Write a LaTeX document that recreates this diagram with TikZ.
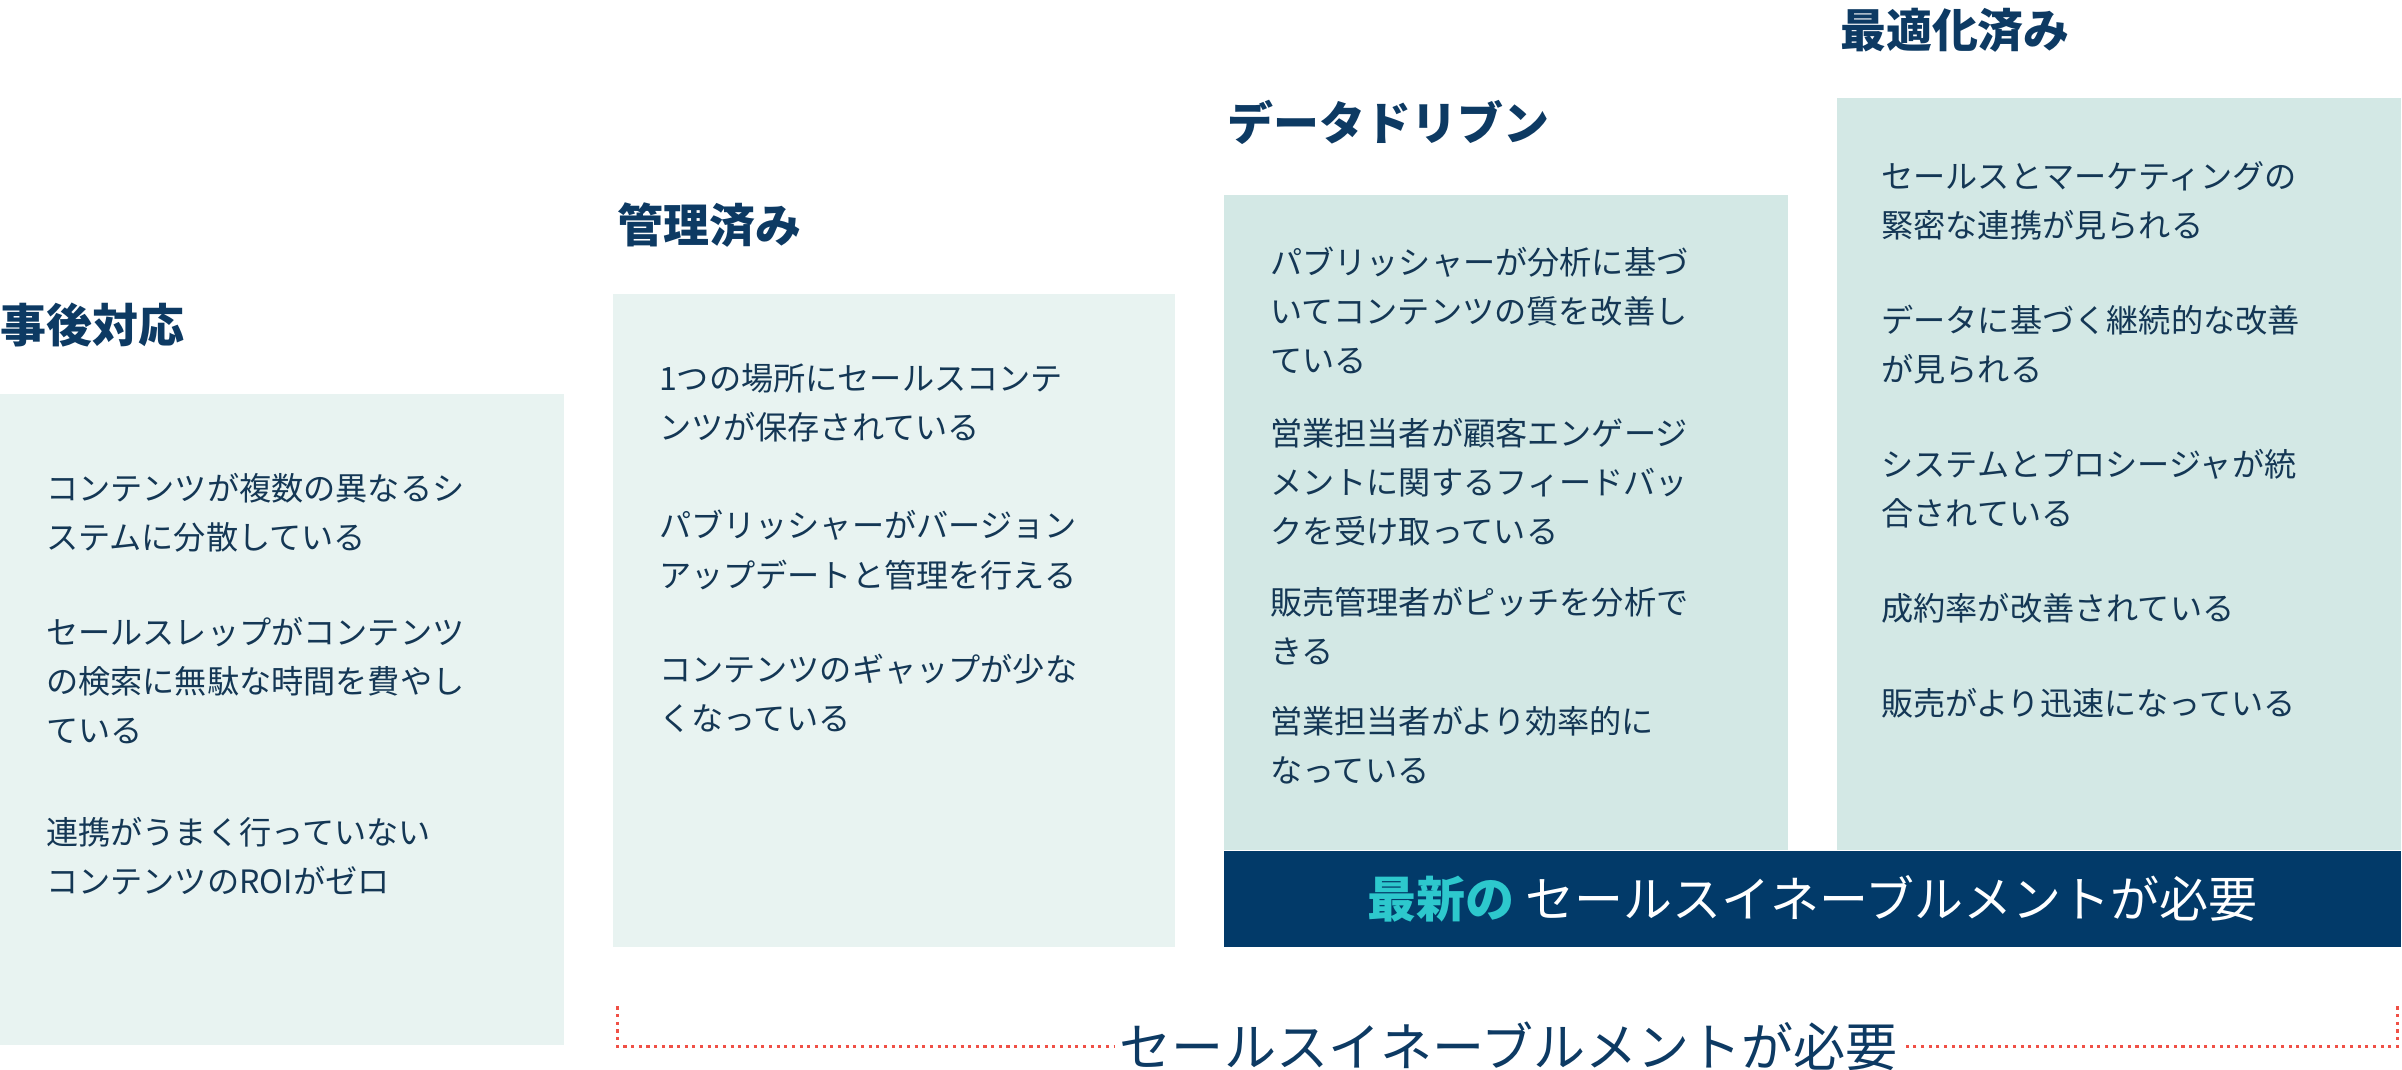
\documentclass[tikz,border=0pt]{standalone}
\usepackage{fontspec}
\setmainfont{Noto Sans CJK JP}
\newfontfamily\boldjp{Noto Sans CJK JP Bold}
\usetikzlibrary{positioning}
\definecolor{StageNavy}{RGB}{13, 58, 99}
\definecolor{StageInk}{RGB}{20, 55, 85}
\definecolor{StagePale}{RGB}{232, 243, 241}
\definecolor{StageMint}{RGB}{211, 232, 229}
\definecolor{BannerBlue}{RGB}{2, 58, 105}
\definecolor{BannerTeal}{RGB}{45, 200, 205}
\definecolor{BracketRed}{RGB}{240, 80, 70}

\begin{document}
\begin{tikzpicture}[x=1pt, y=-1pt,
    stagebox/.style={inner sep=0pt, anchor=north west},
    stagetitle/.style={anchor=west, inner sep=0pt, text=StageNavy, font=\fontsize{30}{36}\selectfont\bfseries},
    itemtext/.style={anchor=north west, inner sep=0pt, align=left, text=StageInk, font=\fontsize{21}{32}\selectfont}]

    \useasboundingbox (0,0) rectangle (1568,698);

    % --- STAGE BOXES ---
    \fill[StagePale] (0,257) rectangle (368,682);
    \fill[StagePale] (400,192) rectangle (767,618);
    \fill[StageMint] (799,127) rectangle (1167,555);
    \fill[StageMint] (1199,64) rectangle (1567,555);
    \node[fill=BannerBlue, minimum width=768pt, minimum height=63pt, inner sep=0pt, anchor=north west] (banner) at (799,555) {};
    \node[font=\fontsize{32}{36}\selectfont, text=white] at (banner.center) {\textcolor{BannerTeal}{\bfseries 最新の} セールスイネーブルメントが必要};

    % --- TITLES ---
    \node[stagetitle] (t1) at (0,212) {事後対応};
    \node[stagetitle] (t2) at (403,147) {管理済み};
    \node[stagetitle] (t3) at (801,80) {データドリブン};
    \node[stagetitle] (t4) at (1201,20) {最適化済み};

    % --- ITEMS ---
    \node[itemtext] (a1) at (30,309) {コンテンツが複数の異なるシ\\ステムに分散している};
    \node[itemtext] (a2) at (30,403) {セールスレップがコンテンツ\\の検索に無駄な時間を費やし\\ている};
    \node[itemtext] (a3) at (30,533) {連携がうまく行っていない\\コンテンツのROIがゼロ};

    \node[itemtext] (b1) at (430,237) {1つの場所にセールスコンテ\\ンツが保存されている};
    \node[itemtext] (b2) at (430,333) {パブリッシャーがバージョン\\アップデートと管理を行える};
    \node[itemtext] (b3) at (430,427) {コンテンツのギャップが少な\\くなっている};

    \node[itemtext] (c1) at (829,161) {パブリッシャーが分析に基づ\\いてコンテンツの質を改善し\\ている};
    \node[itemtext] (c2) at (829,273) {営業担当者が顧客エンゲージ\\メントに関するフィードバッ\\クを受け取っている};
    \node[itemtext] (c3) at (829,383) {販売管理者がピッチを分析で\\きる};
    \node[itemtext] (c4) at (829,461) {営業担当者がより効率的に\\なっている};

    \node[itemtext] (d1) at (1228,105) {セールスとマーケティングの\\緊密な連携が見られる};
    \node[itemtext] (d2) at (1228,199) {データに基づく継続的な改善\\が見られる};
    \node[itemtext] (d3) at (1228,293) {システムとプロシージャが統\\合されている};
    \node[itemtext] (d4) at (1228,387) {成約率が改善されている};
    \node[itemtext] (d5) at (1228,449) {販売がより迅速になっている};

    % --- BRACKET ---
    \node[font=\fontsize{34}{38}\selectfont\addfontfeature{}, text=StageNavy] (need) at (985,683) {セールスイネーブルメントが必要};
    \coordinate (bl) at (403,657);
    \coordinate (br) at (1565,657);
    \draw[BracketRed, line width=2pt, dash pattern=on 2pt off 3pt] (bl) -- (bl |- need) -- (need.west);
    \draw[BracketRed, line width=2pt, dash pattern=on 2pt off 3pt] (br) -- (br |- need) -- (need.east);
\end{tikzpicture}
\end{document}
